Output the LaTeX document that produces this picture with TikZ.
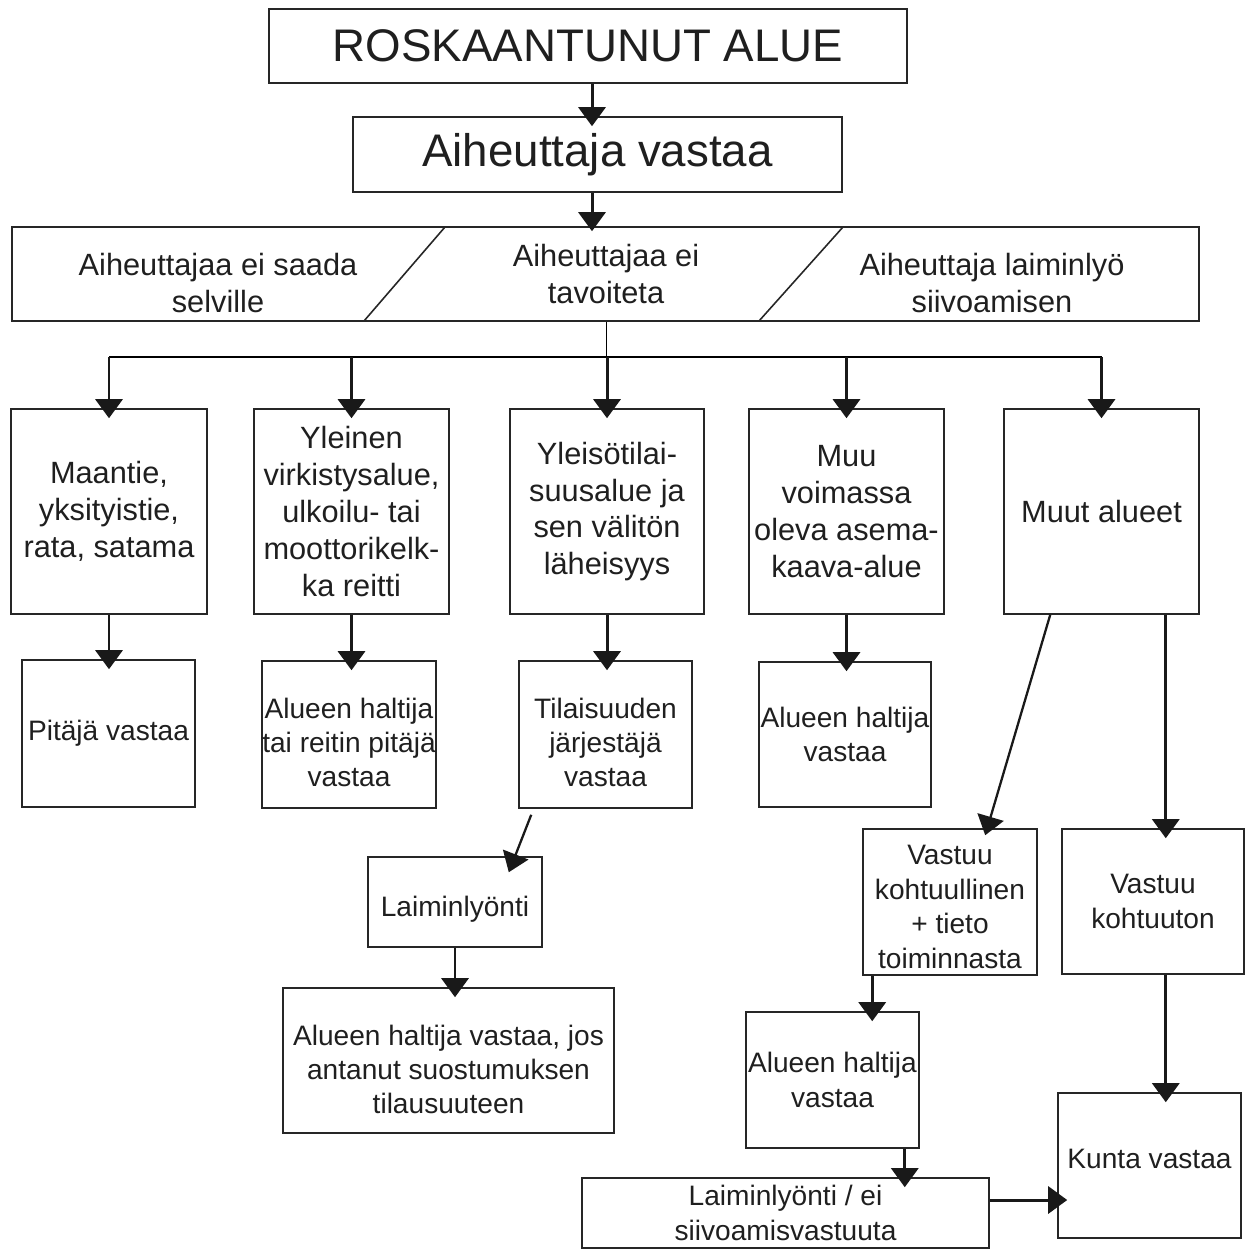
\documentclass[tikz,border=0pt]{standalone}
\usepackage{fontspec}
\setmainfont{Liberation Sans}
\usetikzlibrary{arrows.meta,calc}

\begin{document}
\begin{tikzpicture}[x=0.02cm, y=-0.02cm,
    box/.style={draw=black!85, line width=0.9pt, inner sep=0pt, align=center, text=black!88},
    big/.style={box, font=\fontsize{26}{30}\selectfont},
    mid/.style={box, minimum width=3.9cm, minimum height=4.1cm, font=\fontsize{17.5}{21}\selectfont},
    low/.style={box, font=\fontsize{16}{19.6}\selectfont},
    lbl/.style={align=center, inner sep=0pt, text=black!88, font=\fontsize{16}{19.6}\selectfont},
    arr/.style={-{Triangle[width=0.54cm,length=0.38cm]}, line width=1.7pt, black!90, shorten >=-0.2cm},
    txt/.style={align=center, text=black!88, font=\fontsize{17.5}{21}\selectfont}]
    \useasboundingbox (0,0) rectangle (1246,1251);

    % top of the chart
    \node [big, minimum width=12.76cm, minimum height=1.48cm] (top) at (588,46) {ROSKAANTUNUT ALUE};
    \node [big, minimum width=9.78cm, minimum height=1.5cm] (cause) at (597.5,154.5) {Aiheuttaja vastaa};
    \node [box, minimum width=23.74cm, minimum height=1.88cm] (split) at (605.5,274) {};
    \draw [line width=0.9pt, black!85] (445,227) -- (364,321);
    \draw [line width=0.9pt, black!85] (843,227) -- (759,321);
    \node [txt] (unknown) at (218,283) {Aiheuttajaa ei saada\\selville};
    \node [txt] (unreached) at (606,274) {Aiheuttajaa ei\\tavoiteta};
    \node [txt] (neglects) at (992,283) {Aiheuttaja laiminlyö\\siivoamisen};

    % areas
    \node [mid, minimum width=3.92cm] (road) at (109,511.5) {Maantie,\\yksityistie,\\rata, satama};
    \node [mid] (rec) at (351.5,511.5) {Yleinen\\virkistysalue,\\ulkoilu- tai\\moottorikelk-\\ka reitti};
    \node [mid, minimum width=3.88cm] (event) at (607,511.5) {Yleisötilai-\\suusalue ja\\sen välitön\\läheisyys};
    \node [mid] (plan) at (846.5,511.5) {Muu\\voimassa\\oleva asema-\\kaava-alue};
    \node [mid] (other) at (1101.5,511.5) {Muut alueet};

    % who is responsible
    \node [low, minimum width=3.46cm, minimum height=2.94cm] (keeper) at (108.5,733.5) {Pitäjä vastaa};
    \node [low, minimum width=3.48cm, minimum height=2.94cm,
        label={[lbl, yshift=-0.16cm]center:Alueen haltija\\tai reitin pitäjä\\vastaa}] (holder) at (349,734.5) {};
    \node [low, minimum width=3.46cm, minimum height=2.94cm,
        label={[lbl, yshift=-0.16cm]center:Tilaisuuden\\järjestäjä\\vastaa}] (organiser) at (605.5,734.5) {};
    \node [low, minimum width=3.44cm, minimum height=2.9cm] (planholder) at (845,734.5) {Alueen haltija\\vastaa};
    \node [low, minimum width=3.48cm, minimum height=1.8cm,
        label={[lbl, yshift=-0.14cm]center:Laiminlyönti}] (neglect) at (455,902) {};
    \node [low, minimum width=6.62cm, minimum height=2.9cm,
        label={[lbl, yshift=-0.18cm]center:Alueen haltija vastaa, jos\\antanut suostumuksen\\tilausuuteen}] (consent) at (448.5,1060.5) {};
    \node [low, minimum width=3.48cm, minimum height=2.92cm,
        label={[lbl, yshift=-0.1cm]center:Vastuu\\kohtuullinen\\+ tieto\\toiminnasta}] (fair) at (950,902) {};
    \node [low, minimum width=3.64cm, minimum height=2.9cm] (unfair) at (1153,901.5) {Vastuu\\kohtuuton};
    \node [low, minimum width=3.46cm, minimum height=2.72cm] (holdertwo) at (832.5,1080) {Alueen haltija\\vastaa};
    \node [low, minimum width=8.14cm, minimum height=1.4cm] (neglecttwo) at (785.5,1213) {Laiminlyönti / ei\\siivoamisvastuuta};
    \node [low, minimum width=3.66cm, minimum height=2.9cm,
        label={[lbl, yshift=0.14cm]center:Kunta vastaa}] (town) at (1149.5,1165.5) {};

    % arrows
    \coordinate (bus) at (606,357);
    \draw [arr] (top.south -| 592,0) -- (cause.north -| 592,0);
    \draw [arr, shorten >=-0.1cm] (cause.south -| 592,0) -- (split.north -| 592,0);
    \draw [line width=0.5pt] (split.south -| bus) -- (bus);
    \draw [line width=1.7pt] (road.north |- bus) -- (other.north |- bus);
    \foreach \n in {road,rec,event,plan,other}
        \draw [arr] (\n.north |- bus) -- (\n.north);
    \foreach \a/\b in {road/keeper,rec/holder,event/organiser,plan/planholder}
        \draw [arr] (\a.south) -- (\a.south |- \b.north);
    \draw [arr, line width=1.3pt, shorten >=0pt] ([xshift=0.26cm,yshift=-0.12cm]organiser.south west) -- ([xshift=-0.68cm,yshift=-0.32cm]neglect.north east);
    \draw [arr] (neglect.south) -- (neglect.south |- consent.north);
    \draw [arr, line width=1.3pt, shorten >=0pt] ([xshift=0.94cm]other.south west) -- ([xshift=2.46cm,yshift=-0.14cm]fair.north west);
    \draw [arr] ([xshift=-0.68cm]other.south east) coordinate (drop) -- (drop |- unfair.north);
    \draw [arr] ([xshift=0.2cm]fair.south west) coordinate (down) -- (down |- holdertwo.north);
    \draw [arr] (unfair.south -| drop) -- (drop |- town.north);
    \draw [arr] ([xshift=-0.3cm]holdertwo.south east) coordinate (last) -- (last |- neglecttwo.north);
    \draw [arr] ([yshift=0.26cm]neglecttwo.east) coordinate (side) -- (side -| town.west);
\end{tikzpicture}
\end{document}
